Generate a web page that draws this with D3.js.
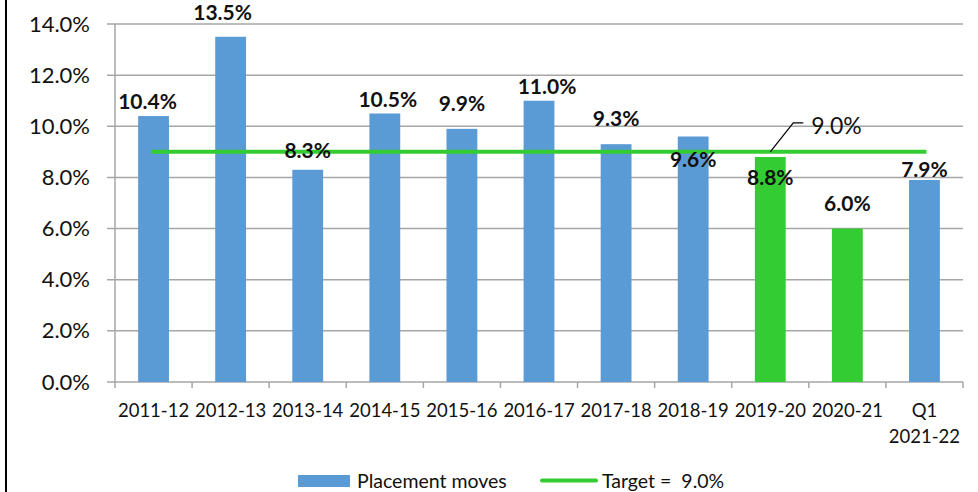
<!DOCTYPE html>
<html>
<head>
<meta charset="utf-8">
<script src="https://cdn.jsdelivr.net/npm/d3@7"></script>
<style>
  html, body { margin: 0; padding: 0; background: #fff; }
  svg { display: block; font-family: Lato, "Open Sans", sans-serif; }
</style>
</head>
<body>
<svg id="chart" width="978" height="492"></svg>
<script>
// data
const categories = ['2011-12', '2012-13', '2013-14', '2014-15', '2015-16', '2016-17',
  '2017-18', '2018-19', '2019-20', '2020-21', 'Q1 2021-22']
const placementMoves = [10.4, 13.5, 8.3, 10.5, 9.9, 11.0, 9.3, 9.6, 8.8, 6.0, 7.9]
const highlighted = ['2019-20', '2020-21']
const target = 9.0
const yTicks = [0, 2, 4, 6, 8, 10, 12, 14]

// label nudges, as Excel had them hand-placed (px, relative to bar top / centre)
const labelGap = [7, 17, 12, 7, 18, 7, 18, -30, -28, 18, 3]
const labelShift = [-6, -8, 0, 3, 0, 8, 0, 0, 0, 0, 0]

const blue = '#5b9bd5'
const green = '#33cc33'
const grid = '#a6a6a6'

const svg = d3.select('#chart')
const margin = { top: 24, right: 15, bottom: 110, left: 115 }
const width = 978 - margin.left - margin.right
const height = 492 - margin.top - margin.bottom

// black frame edge on the left
svg.append('rect').attr('x', 5).attr('y', 0).attr('width', 2).attr('height', 492).attr('fill', '#000')

const x = d3.scaleBand().domain(categories).range([0, width]).paddingInner(0.6).paddingOuter(0.3)
const y = d3.scaleLinear().domain([0, 14]).range([height, 0])

const g = svg.append('g').attr('transform', `translate(${margin.left},${margin.top})`)

// gridlines
g.append('g')
  .selectAll('line')
  .data(yTicks)
  .enter()
  .append('line')
  .attr('x1', -8)
  .attr('x2', width)
  .attr('y1', (d) => y(d))
  .attr('y2', (d) => y(d))
  .attr('stroke', grid)
  .attr('stroke-width', 1.5)

// y axis labels
g.append('g')
  .selectAll('text')
  .data(yTicks)
  .enter()
  .append('text')
  .attr('x', -25)
  .attr('y', (d) => y(d) + 7.5)
  .attr('text-anchor', 'end')
  .attr('font-size', 22)
  .attr('fill', '#111')
  .text((d) => d.toFixed(1) + '%')

// y axis line
g.append('line')
  .attr('x1', 0).attr('x2', 0)
  .attr('y1', 0).attr('y2', height)
  .attr('stroke', grid).attr('stroke-width', 1.5)

// x ticks at band boundaries
g.append('g')
  .selectAll('line')
  .data(d3.range(categories.length + 1))
  .enter()
  .append('line')
  .attr('x1', (i) => i * x.step())
  .attr('x2', (i) => i * x.step())
  .attr('y1', height)
  .attr('y2', height + 6)
  .attr('stroke', grid)
  .attr('stroke-width', 1.5)

// bars
g.append('g')
  .selectAll('rect')
  .data(placementMoves)
  .enter()
  .append('rect')
  .attr('x', (d, i) => x(categories[i]))
  .attr('y', (d) => y(d))
  .attr('width', x.bandwidth())
  .attr('height', (d) => y(0) - y(d))
  .attr('fill', (d, i) => (highlighted.includes(categories[i]) ? green : blue))

// x axis labels (two lines for the quarter)
const catLabels = g.append('g')
  .selectAll('text')
  .data(categories)
  .enter()
  .append('text')
  .attr('text-anchor', 'middle')
  .attr('font-size', 18.5)
  .attr('fill', '#111')
  .attr('transform', (d) => `translate(${x(d) + x.bandwidth() / 2},${height + 35})`)
catLabels.each(function (d) {
  const parts = d.startsWith('Q') ? d.split(' ') : [d]
  d3.select(this)
    .selectAll('tspan')
    .data(parts)
    .enter()
    .append('tspan')
    .attr('x', 0)
    .attr('dy', (p, j) => (j === 0 ? 0 : 26))
    .text((p) => p)
})

// target line
const xFirst = x(categories[0]) + x.bandwidth() / 2
const xLast = x(categories[categories.length - 1]) + x.bandwidth() / 2
g.append('line')
  .attr('x1', xFirst - 2).attr('x2', xLast + 2)
  .attr('y1', y(target)).attr('y2', y(target))
  .attr('stroke', green).attr('stroke-width', 4)

// value labels
g.append('g')
  .selectAll('text')
  .data(placementMoves)
  .enter()
  .append('text')
  .attr('x', (d, i) => x(categories[i]) + x.bandwidth() / 2 + labelShift[i])
  .attr('y', (d, i) => y(d) - labelGap[i])
  .attr('text-anchor', 'middle')
  .attr('font-size', 21)
  .attr('font-weight', 'bold')
  .attr('fill', '#111')
  .text((d) => d.toFixed(1) + '%')

// callout for the target value
const cx = x('2019-20') + x.bandwidth() / 2
const cy = y(target)
g.append('path')
  .attr('d', `M${cx},${cy} L${cx + 23},${cy - 29} L${cx + 33},${cy - 29}`)
  .attr('fill', 'none')
  .attr('stroke', '#000')
  .attr('stroke-width', 1.2)
g.append('text')
  .attr('x', cx + 41)
  .attr('y', cy - 18)
  .attr('font-size', 23)
  .attr('fill', '#111')
  .text(target.toFixed(1) + '%')

// legend
const legend = svg.append('g').attr('font-size', 19.5).attr('fill', '#111')
legend.append('rect').attr('x', 298).attr('y', 475).attr('width', 52).attr('height', 12).attr('fill', blue)
legend.append('text').attr('x', 357).attr('y', 487.5).text('Placement moves')
legend.append('line')
  .attr('x1', 542).attr('x2', 596).attr('y1', 480.5).attr('y2', 480.5)
  .attr('stroke', green).attr('stroke-width', 4).attr('stroke-linecap', 'round')
legend.append('text').attr('x', 602).attr('y', 487.5).attr('xml:space', 'preserve').text('Target =  ' + target.toFixed(1) + '%')
</script>
</body>
</html>
